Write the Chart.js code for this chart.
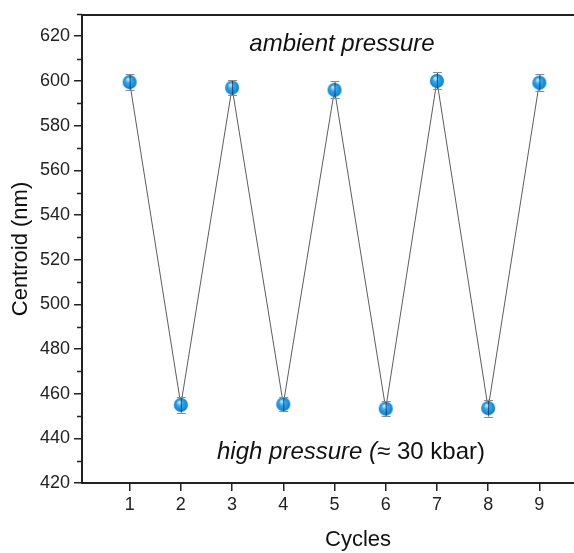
<!DOCTYPE html>
<html>
<head>
<meta charset="utf-8">
<script src="https://cdn.jsdelivr.net/npm/chart.js@4.4.0/dist/chart.umd.min.js"></script>
<style>
  html, body { margin: 0; padding: 0; background: #fff; overflow: hidden; }
  #wrap { width: 574px; height: 553px; overflow: hidden; }
</style>
</head>
<body>
<div id="wrap"><canvas id="chart" width="582" height="553"></canvas></div>
<script>
// data
const cycles = [1, 2, 3, 4, 5, 6, 7, 8, 9];
const centroid = [599.5, 455, 597, 455.3, 596, 453.3, 600, 453.5, 599.2];
const errors = [3.6, 3.6, 3.4, 3.2, 3.8, 3.4, 3.8, 3.8, 3.8];
const yTicks = [420, 440, 460, 480, 500, 520, 540, 560, 580, 600, 620];

const FONT = '"Liberation Sans", Arial, sans-serif';

// blue sphere marker
function sphere(r) {
  const c = document.createElement('canvas');
  c.width = c.height = r * 2 + 2;
  const g = c.getContext('2d');
  const cx = r + 1, cy = r + 1;
  const grad = g.createRadialGradient(cx - r * 0.25, cy - r * 0.4, r * 0.1, cx, cy, r);
  grad.addColorStop(0, '#bfe6ff');
  grad.addColorStop(0.35, '#2fa8f0');
  grad.addColorStop(0.8, '#1190e0');
  grad.addColorStop(1, '#0a74c4');
  g.fillStyle = grad;
  g.beginPath();
  g.arc(cx, cy, r, 0, Math.PI * 2);
  g.fill();
  return c;
}

// top border, minor ticks, error bars, labels
const extras = {
  id: 'extras',
  afterDatasetsDraw(chart) {
    const { ctx, chartArea: a, scales: { x, y } } = chart;
    ctx.save();
    // error bars
    cycles.forEach((c, i) => {
      const px = x.getPixelForValue(c);
      const top = y.getPixelForValue(centroid[i] + errors[i]);
      const bot = y.getPixelForValue(centroid[i] - errors[i]);
      ctx.strokeStyle = 'rgba(40,40,60,0.75)';
      ctx.lineWidth = 1;
      ctx.beginPath();
      ctx.moveTo(px + 0.5, top);
      ctx.lineTo(px + 0.5, bot);
      ctx.stroke();
      ctx.strokeStyle = '#8a8a8a';
      ctx.beginPath();
      ctx.moveTo(px - 4, Math.round(top) + 0.5);
      ctx.lineTo(px + 5, Math.round(top) + 0.5);
      ctx.moveTo(px - 4, Math.round(bot) + 0.5);
      ctx.lineTo(px + 5, Math.round(bot) + 0.5);
      ctx.stroke();
    });
    // frame
    ctx.strokeStyle = '#222';
    ctx.lineWidth = 2;
    ctx.beginPath();
    ctx.moveTo(a.left - 1, a.top);
    ctx.lineTo(a.right + 10, a.top);
    ctx.stroke();
    // minor y ticks
    ctx.lineWidth = 1.5;
    for (let v = 430; v <= 630; v += 20) {
      const py = Math.round(y.getPixelForValue(v)) + 0.5;
      ctx.beginPath();
      ctx.moveTo(a.left - 5, py);
      ctx.lineTo(a.left, py);
      ctx.stroke();
    }
    // annotations
    ctx.fillStyle = '#111';
    ctx.textBaseline = 'middle';
    ctx.font = 'italic 24px ' + FONT;
    ctx.textAlign = 'center';
    ctx.fillText('ambient pressure', 342, 44);
    const p1 = 'high pressure (';
    const p2 = '\u2248 30 kbar)';
    const w1 = ctx.measureText(p1).width;
    ctx.font = '24px ' + FONT;
    const w2 = ctx.measureText(p2).width;
    const sx = 351 - (w1 + w2) / 2;
    ctx.textAlign = 'left';
    ctx.font = 'italic 24px ' + FONT;
    ctx.fillText(p1, sx, 452);
    ctx.font = '24px ' + FONT;
    ctx.fillText(p2, sx + w1, 452);
    // x axis title
    ctx.textAlign = 'center';
    ctx.font = '22px ' + FONT;
    ctx.fillText('Cycles', 358, 540);
    ctx.restore();
  }
};

new Chart(document.getElementById('chart'), {
  type: 'scatter',
  data: {
    datasets: [{
      data: cycles.map((c, i) => ({ x: c, y: centroid[i] })),
      showLine: true,
      borderColor: '#333',
      borderWidth: 0.8,
      pointStyle: sphere(7),
      pointRadius: 7,
      pointHoverRadius: 7
    }]
  },
  options: {
    responsive: false,
    animation: false,
    events: [],
    layout: { padding: { top: 15, right: 0, left: 4, bottom: 0 } },
    plugins: { legend: { display: false }, tooltip: { enabled: false } },
    scales: {
      x: {
        type: 'linear',
        min: 0.07,
        max: 9.68,
        afterBuildTicks: s => { s.ticks = cycles.map(v => ({ value: v })); },
        afterFit: s => { s.height = 70; },
        border: { color: '#222', width: 2 },
        grid: { drawOnChartArea: false, tickLength: 8, color: '#222', lineWidth: 1.5 },
        ticks: { color: '#222', font: { family: FONT, size: 18 }, padding: 3 },
        title: { display: false }
      },
      y: {
        min: 420,
        max: 629.5,
        afterBuildTicks: s => { s.ticks = yTicks.map(v => ({ value: v })); },
        afterFit: s => { s.width = 78; },
        border: { color: '#222', width: 2 },
        grid: { drawOnChartArea: false, tickLength: 8, color: '#222', lineWidth: 1.5 },
        ticks: { color: '#222', font: { family: FONT, size: 18 }, padding: 4 },
        title: { display: true, text: 'Centroid (nm)', color: '#111', font: { family: FONT, size: 22 }, padding: { bottom: 2 } }
      }
    }
  },
  plugins: [extras]
});
</script>
</body>
</html>
